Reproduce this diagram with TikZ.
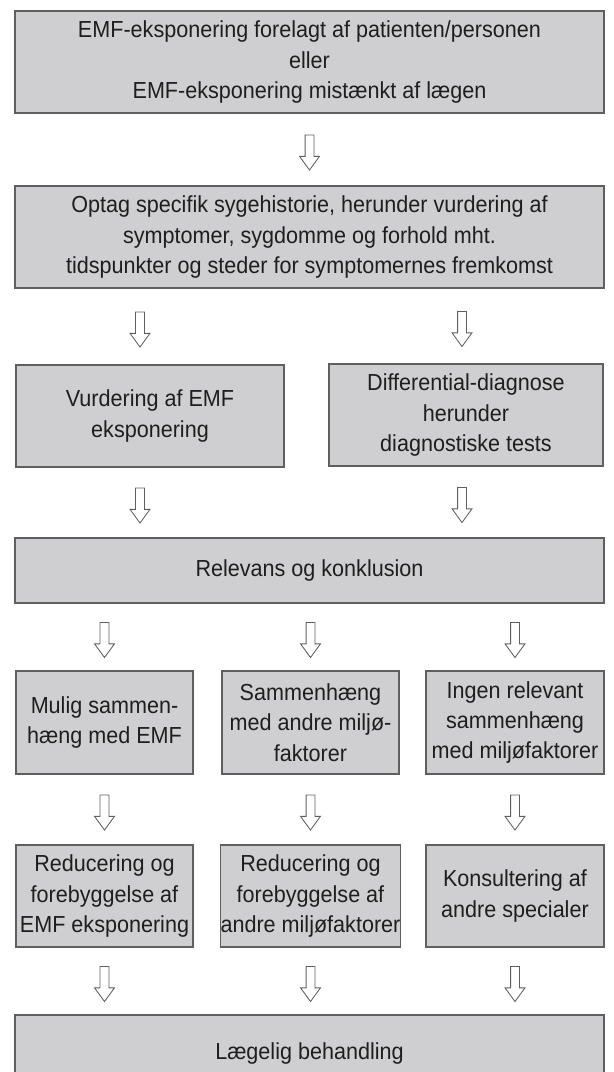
\documentclass[tikz,border=0pt]{standalone}
\usepackage{fontspec}
\setmainfont[FakeStretch=0.93]{Liberation Sans}
\usetikzlibrary{shapes.arrows}
\definecolor{boxfill}{RGB}{207,207,209}
\definecolor{boxline}{RGB}{95,95,95}
\definecolor{txt}{RGB}{30,30,30}

\begin{document}
\begin{tikzpicture}[x=0.025cm,y=-0.025cm,font=\fontsize{16.5}{21.5}\selectfont,
  box/.style={draw=boxline,fill=boxfill,line width=.85pt,text=txt,align=center,inner sep=0pt,minimum height=2.55cm},
  wide/.style={box,minimum width=14.725cm},
  small/.style={box,minimum width=4.425cm},
  down/.style={single arrow,draw=boxline,fill=white,line width=.6pt,rotate=-90,minimum height=.875cm,minimum width=0pt,inner sep=0pt,inner ysep=.1cm,single arrow head extend=.1375cm,single arrow tip angle=72}]
\useasboundingbox (0,0) rectangle (613,1072);
\node[wide] (emf) at (309.5,62) {EMF-eksponering forelagt af patienten/personen\\eller\\EMF-eksponering mistænkt af lægen};
\node[wide] (hist) at (309.5,237) {Optag specifik sygehistorie, herunder vurdering af\\symptomer, sygdomme og forhold mht.\\tidspunkter og steder for symptomernes fremkomst};
\node[box,minimum width=6.7cm] (vemf) at (150,416) {Vurdering af EMF\\eksponering};
\node[box,minimum width=6.85cm] (diff) at (466,415) {Differential-diagnose\\herunder\\diagnostiske tests};
\node[wide,minimum height=1.625cm] (relev) at (309.5,570.5) {Relevans og konklusion};
\node[small,minimum height=2.575cm] (mulig) at (104.5,722.5) {Mulig sammen-\\hæng med EMF};
\node[small,minimum height=2.575cm] (samm) at (310.5,722.5) {Sammenhæng\\med andre miljø-\\faktorer};
\node[small,minimum height=2.575cm,minimum width=4.45cm] (ingen) at (515,722.5) {Ingen relevant\\sammenhæng\\med miljøfaktorer};
\node[small] (red1) at (104.5,896) {Reducering og\\forebyggelse af\\EMF eksponering};
\node[small] (red2) at (310.5,896) {Reducering og\\forebyggelse af\\andre miljøfaktorer};
\node[small,minimum width=4.45cm] (kons) at (515,896) {Konsultering af\\andre specialer};
\node[wide,minimum height=1.9cm] (beh) at (309.5,1053) {Lægelig behandling};
% arrows
\path (emf) -- node[down]{} (hist);
\path (hist.south -| vemf.north) -- node[xshift=-.25cm,down]{} (vemf.north);
\path (hist.south -| diff.north) -- node[xshift=-.1cm,down]{} (diff.north);
\path (vemf.south) -- node[xshift=-.25cm,down]{} (relev.north -| vemf.south);
\path (diff.south) -- node[xshift=-.1cm,down]{} (relev.north -| diff.south);
\path (relev.south -| mulig.north) -- node[down]{} (mulig.north);
\path (relev.south -| samm.north) -- node[down]{} (samm.north);
\path (relev.south -| ingen.north) -- node[down]{} (ingen.north);
\path (mulig) -- node[down]{} (red1);
\path (samm) -- node[down]{} (red2);
\path (ingen) -- node[down]{} (kons);
\path (red1.south) -- node[down]{} (beh.north -| red1.south);
\path (red2.south) -- node[down]{} (beh.north -| red2.south);
\path (kons.south) -- node[down]{} (beh.north -| kons.south);
\end{tikzpicture}
\end{document}
